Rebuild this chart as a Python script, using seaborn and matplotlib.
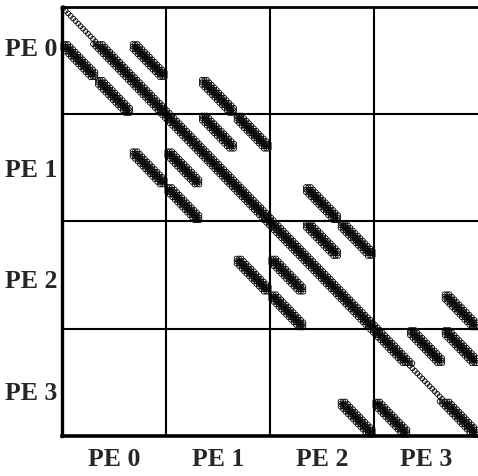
import numpy as np
import pandas as pd
import matplotlib
matplotlib.use("Agg")
import matplotlib.pyplot as plt
import seaborn as sns

# Sparsity layout: 4 processing elements, each owning 3 sub-blocks of 14 unknowns
pe_labels = ["PE 0", "PE 1", "PE 2", "PE 3"]
sub_size = 14
subs_per_pe = 3

# Diagonal sub-blocks holding only the main diagonal
thin_diag_blocks = [0, 10]
# Diagonal sub-blocks holding a full band around the main diagonal
thick_diag_blocks = [1, 2, 3, 4, 5, 6, 7, 8, 9, 11]
# Off-diagonal coupled sub-blocks (row sub-block, column sub-block)
band_rows = [1, 2, 1, 2,
             3, 3, 4, 5, 4,
             5, 6, 6, 7, 8, 7,
             8, 9, 9, 11, 11]
band_cols = [0, 1, 2, 4,
             4, 5, 3, 3, 2,
             7, 7, 8, 6, 6, 5,
             11, 10, 11, 8, 9]
band_offsets = [-2, -1, 0, 1, 2]

# y positions of the row labels (in matrix rows)
ytick_rows = [15.5, 63.0, 106.5, 150.5]

n_total = 4 * subs_per_pe * sub_size

rows, cols = [], []
for b in thin_diag_blocks:
    for i in range(sub_size):
        rows.append(b * sub_size + i)
        cols.append(b * sub_size + i)
for b in thick_diag_blocks:
    for i in range(sub_size):
        g = b * sub_size + i
        for d in band_offsets:
            if 0 <= g + d < n_total:
                rows.append(g)
                cols.append(g + d)
for r, c in zip(band_rows, band_cols):
    for i in range(sub_size):
        for d in band_offsets:
            j = i + d
            if 0 <= j < sub_size:
                rows.append(r * sub_size + i)
                cols.append(c * sub_size + j)

df = pd.DataFrame({"row": np.array(rows) + 0.5, "col": np.array(cols) + 0.5})

sns.set_theme(style="white")
plt.rcParams["font.family"] = ["Liberation Serif", "DejaVu Serif"]

fig = plt.figure(figsize=(4.78, 4.76), dpi=100)
ax = fig.add_axes([62 / 478, 40 / 476, 416 / 478, 429 / 476])

sns.scatterplot(data=df, x="col", y="row", ax=ax, marker="o", s=12,
                linewidth=0.6, legend=False, clip_on=False)
coll = ax.collections[0]
coll.set_facecolor("none")
coll.set_edgecolor("black")

ax.set_xlim(0, n_total)
ax.set_ylim(n_total, 0)

# PE block boundaries
pe_size = subs_per_pe * sub_size
for k in range(1, 4):
    ax.axvline(k * pe_size, color="black", lw=1.5, zorder=0)
    ax.axhline(k * pe_size, color="black", lw=1.5, zorder=0)

for side in ["left", "bottom", "top"]:
    ax.spines[side].set_color("black")
ax.spines["right"].set_visible(False)
ax.spines["left"].set_linewidth(2.4)
ax.spines["bottom"].set_linewidth(2.6)
ax.spines["top"].set_linewidth(2.0)

ax.set_xticks([pe_size * (k + 0.5) for k in range(4)])
ax.set_xticklabels(pe_labels, fontsize=18.5, fontweight="bold")
ax.set_yticks(ytick_rows)
ax.set_yticklabels(pe_labels, fontsize=18.5, fontweight="bold")
ax.tick_params(axis="both", length=0)
ax.tick_params(axis="x", pad=9)
ax.tick_params(axis="y", pad=3)
ax.set_xlabel("")
ax.set_ylabel("")

fig.savefig("out.png", dpi=100)
